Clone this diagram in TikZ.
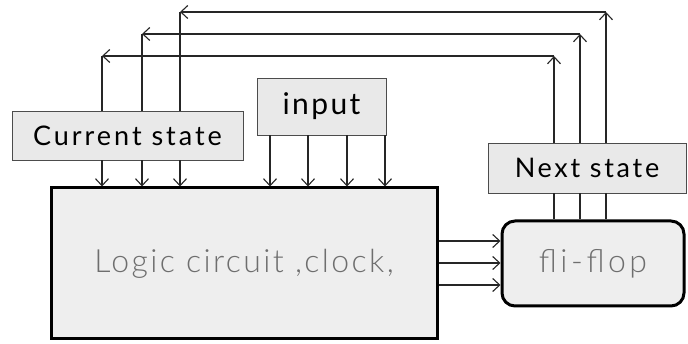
\documentclass[tikz,border=0pt]{standalone}
\usepackage{fontspec}
\setmainfont{Lato}
\newfontfamily\lightfont{Lato Light}
\usetikzlibrary{arrows.meta,calc}
\definecolor{boxfill}{HTML}{E9E9E9}
\definecolor{bigfill}{HTML}{EEEEEE}
\definecolor{softtext}{HTML}{6E6E6E}
\tikzset{
  labelbox/.style={draw=black!70, line width=0.8pt, fill=boxfill, inner sep=0pt},
  bigbox/.style={draw=black, line width=3pt, fill=bigfill, inner sep=0pt, text=softtext},
  wire/.style={line width=1.1pt, draw=black!85},
  arr/.style={wire, -{Straight Barb[length=7pt,width=13pt,line width=1.1pt]}},
}
\begin{document}
\begin{tikzpicture}[x=1pt,y=-1pt]
\path[use as bounding box, fill=white] (0,0) rectangle (688,344);
% nodes
\node[labelbox, minimum width=231pt, minimum height=49pt,
  font=\fontsize{27}{30}\selectfont\addfontfeature{LetterSpace=11}] (cs) at (127.5,135.5) {Current state};
\node[labelbox, minimum width=129pt, minimum height=57pt,
  font=\fontsize{30}{33}\selectfont\addfontfeature{LetterSpace=8}] (in) at (321.5,106.5) {input};
\node[labelbox, minimum width=198pt, minimum height=50pt,
  font=\fontsize{27}{30}\selectfont\addfontfeature{LetterSpace=10}] (ns) at (587,168) {Next state};
\node[bigbox, minimum width=386pt, minimum height=151pt,
  font=\lightfont\fontsize{32}{35}\selectfont\addfontfeature{LetterSpace=7.5}] (lc) at (244,263.5) {Logic circuit ,clock,};
\node[bigbox, rounded corners=13pt, minimum width=182pt, minimum height=85pt,
  font=\lightfont\fontsize{32}{35}\selectfont\addfontfeature{LetterSpace=11}] (ff) at (593,263.5) {fli-flop};
% helper coordinates
\coordinate (c1) at (102,56);
\coordinate (c2) at (142,34);
\coordinate (c3) at (180,12);
\coordinate (n1) at (554,56);
\coordinate (n2) at (580,34);
\coordinate (n3) at (606,12);
\coordinate (i1) at (270,0);
\coordinate (i2) at (308,0);
\coordinate (i3) at (347,0);
\coordinate (i4) at (385,0);
\coordinate (h1) at (0,241);
\coordinate (h2) at (0,263);
\coordinate (h3) at (0,285);
% feedback loops
\foreach \n/\c in {n1/c1,n2/c2,n3/c3}{
  \draw[arr] (ns.north -| \n) -- (\n);
  \draw[arr] (\n) -- (\c);
  \draw[wire] (\c) -- (cs.north -| \c);
  \draw[arr] (cs.south -| \c) -- (lc.north -| \c);
  \draw[wire] (ns.south -| \n) -- (ff.north -| \n);
}
% input arrows
\foreach \i in {i1,i2,i3,i4}{
  \draw[arr] (in.south -| \i) -- (lc.north -| \i);
}
% logic to flip-flop
\foreach \h in {h1,h2,h3}{
  \draw[arr] (lc.east |- \h) -- (ff.west |- \h);
}
\end{tikzpicture}
\end{document}
